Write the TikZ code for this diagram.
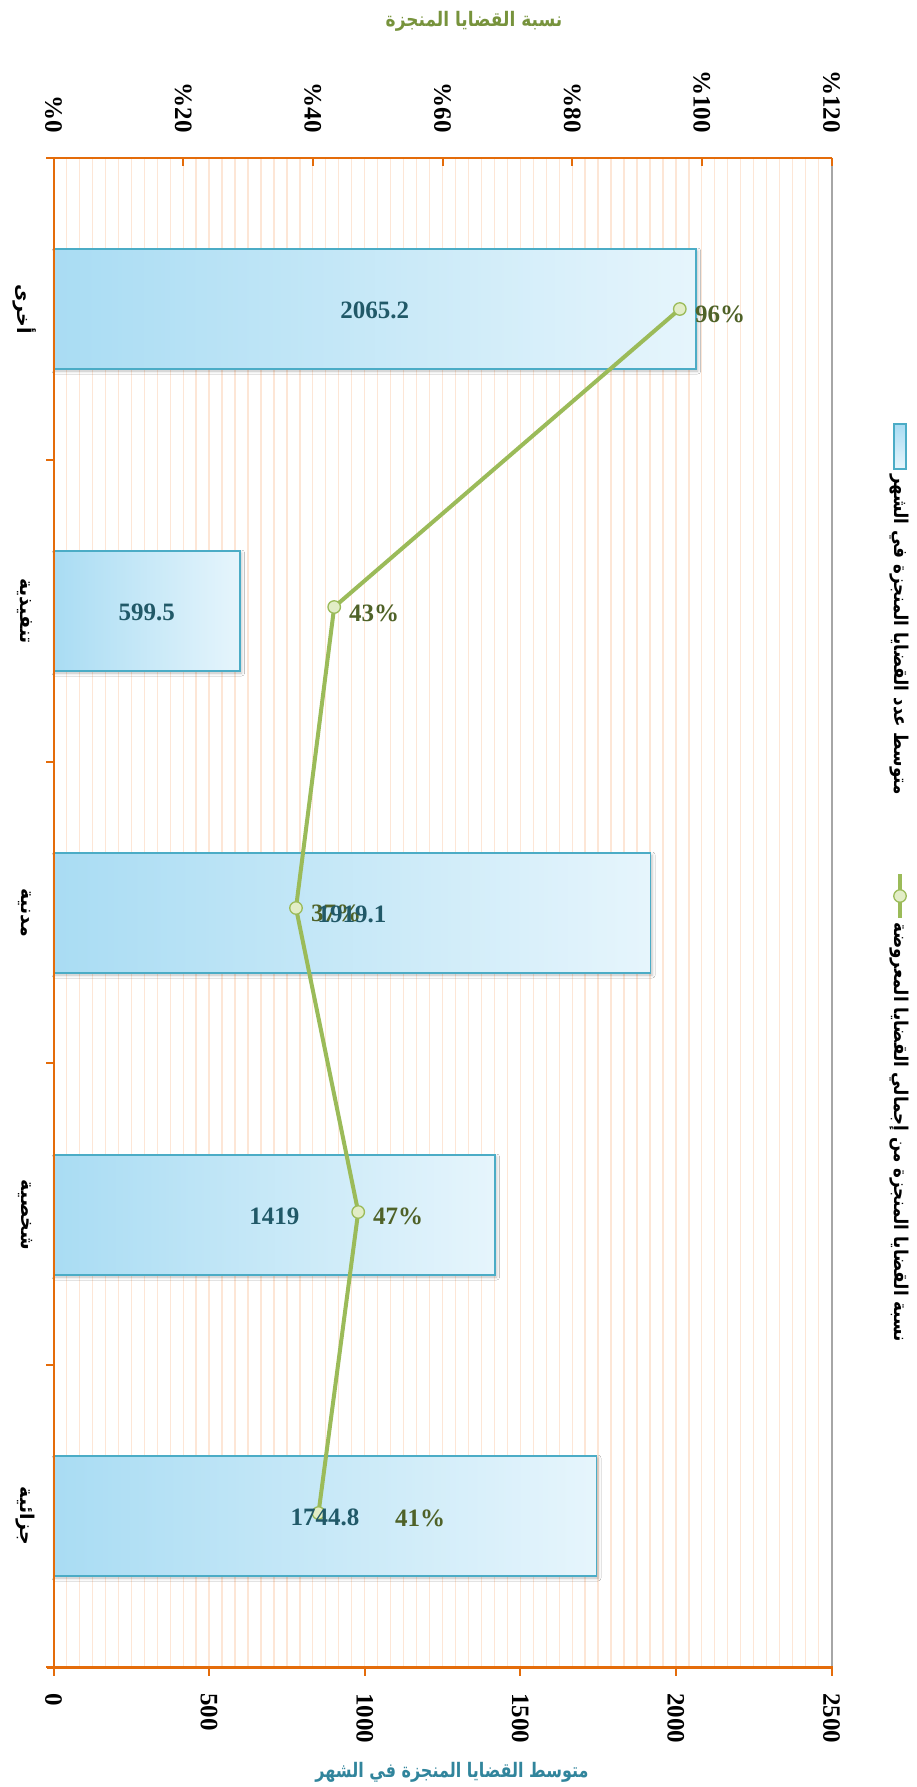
\documentclass[tikz,border=0pt]{standalone}
\usepackage{graphicx}
\usepackage{fontspec}
\setmainfont{Liberation Serif}
\newfontfamily\arabicfont[Script=Arabic]{DejaVu Sans}
\TeXXeTstate=1
\usetikzlibrary{shadows.blur}
\definecolor{axisorange}{HTML}{E46C0A}
\definecolor{gridorange}{HTML}{FDE6D6}
\definecolor{barborder}{HTML}{4BACC6}
\definecolor{barleft}{HTML}{A9DCF3}
\definecolor{barright}{HTML}{E6F5FC}
\definecolor{linegreen}{HTML}{9BBB59}
\definecolor{markerfill}{HTML}{E2EDC6}
\definecolor{pctlabel}{HTML}{4F6228}
\definecolor{barlabel}{HTML}{215968}
\definecolor{toptitle}{HTML}{77933C}
\definecolor{bottitle}{HTML}{31859C}
\definecolor{framegray}{HTML}{A6A6A6}
\tikzset{
 gridline/.style={draw=gridorange, line width=1.3pt},
 axisline/.style={draw=axisorange, line width=2pt},
 barbox/.style={rectangle, draw=barborder, line width=1.5pt, left color=barleft, right color=barright, minimum height=120pt, inner sep=0pt, outer sep=0pt, blur shadow={shadow xshift=1.5pt, shadow yshift=-2pt, shadow blur radius=3pt, shadow opacity=25}},
 gline/.style={draw=linegreen, line width=4pt, line join=round},
 gmark/.style={circle, draw=linegreen, line width=1.3pt, fill=markerfill, minimum size=12.5pt, inner sep=0pt},
 pct/.style={text=pctlabel, font=\fontsize{25}{30}\selectfont\bfseries, inner sep=0pt, anchor=west},
 barval/.style={text=barlabel, font=\fontsize{25}{30}\selectfont\bfseries, inner sep=0pt},
 ticklab/.style={font=\fontsize{25}{30}\selectfont\bfseries, inner sep=0pt, rotate=-90},
 catlab/.style={font=\arabicfont\fontsize{19}{24}\selectfont\bfseries, inner sep=0pt, rotate=-90},
 legtext/.style={font=\arabicfont\fontsize{19}{24}\selectfont\bfseries, inner sep=0pt, rotate=-90},
}
\begin{document}
\begin{tikzpicture}[x=1pt,y=-1pt]
\useasboundingbox (0,0) rectangle (917,1787);
\fill[white] (0,0) rectangle (917,1787);
% gridlines
\foreach \k in {1,...,59} {
  \draw[gridline] ({53.5+\k*12.9667},158) -- ({53.5+\k*12.9667},1667);
}
% bars
\node[barbox, minimum width=642.7pt, anchor=west] (b1) at (53.5,309) {};
\node[barbox, minimum width=186.6pt, anchor=west] (b2) at (53.5,611) {};
\node[barbox, minimum width=597.2pt, anchor=west] (b3) at (53.5,913) {};
\node[barbox, minimum width=441.6pt, anchor=west] (b4) at (53.5,1215) {};
\node[barbox, minimum width=543.0pt, anchor=west] (b5) at (53.5,1516) {};
% frame and axes
\draw[framegray, line width=1.5pt] (832,158) -- (832,1667);
\draw[axisline] (47,158) -- (832,158);
\foreach \i in {0,...,6} { \draw[axisline] ({53.5+\i*129.67},158) -- ({53.5+\i*129.67},166); }
\draw[axisline] (53.5,158) -- (53.5,1667);
\foreach \i in {0,...,5} { \draw[axisline] (46,{158+\i*301.8}) -- (53.5,{158+\i*301.8}); }
\draw[draw=axisorange, line width=3pt] (47,1667) -- (833,1667);
\foreach \i in {0,...,5} { \draw[axisline] ({53.5+\i*155.6},1667) -- ({53.5+\i*155.6},1676); }
% tick labels
\foreach \i in {0,...,6} {
  \pgfmathsetmacro\xx{53.5+\i*129.67}
  \pgfmathtruncatemacro\pp{\i*20}
  \node[ticklab, anchor=east] (tl\i) at (\xx,133) {\%\pp};
}
\foreach \i in {0,...,5} {
  \pgfmathsetmacro\xx{53.5+\i*155.6}
  \pgfmathtruncatemacro\vv{\i*500}
  \node[ticklab, anchor=west] (bl\i) at (\xx,1693) {\vv};
}
% category labels
\node[catlab] (c1) at (25,309) {\beginR أخرى\endR};
\node[catlab] (c2) at (25,611) {\beginR تنفيذية\endR};
\node[catlab] (c3) at (25,913) {\beginR مدنية\endR};
\node[catlab] (c4) at (25,1215) {\beginR شخصية\endR};
\node[catlab] (c5) at (25,1516) {\beginR جزائية\endR};
% line series
\coordinate (p1) at (679.8,309);
\coordinate (p2) at (334.2,607);
\coordinate (p3) at (296.0,908);
\coordinate (p4) at (358.2,1212);
\coordinate (p5) at (318.5,1513);
\draw[gline] (p1) -- (p2) -- (p3) -- (p4) -- (p5);
\node[gmark] (m1) at (p1) {};
\node[gmark] (m2) at (p2) {};
\node[gmark] (m3) at (p3) {};
\node[gmark] (m4) at (p4) {};
\node[gmark] (m5) at (p5) {};
% percent labels
\node[pct] (l1) at (695,314) {96\%};
\node[pct] (l2) at (349,613) {43\%};
\node[pct] (l3) at (311,913) {37\%};
\node[pct] (l4) at (373,1216) {47\%};
\node[pct] (l5) at (395,1518) {41\%};
% bar value labels
\node[barval] (v1) at (374.8,310) {2065.2};
\node[barval] (v2) at (146.8,612) {599.5};
\node[barval] (v3) at (352.1,914) {1919.1};
\node[barval] (v4) at (274.3,1216) {1419};
\node[barval] (v5) at (325.0,1517) {1744.8};
% axis titles
\node[font=\arabicfont\fontsize{20}{24}\selectfont\bfseries, text=toptitle, inner sep=0pt] (ttop) at (474,21) {\scalebox{0.85}[1]{\beginR نسبة القضايا المنجزة\endR}};
\node[font=\arabicfont\fontsize{20}{24}\selectfont\bfseries, text=bottitle, inner sep=0pt] (tbot) at (452,1772) {\scalebox{0.8}[1]{\beginR متوسط القضايا المنجزة في الشهر\endR}};
% legend
\node[rectangle, draw=barborder, line width=1.5pt, top color=barleft, bottom color=barright, minimum width=12pt, minimum height=45pt, inner sep=0pt] (k1) at (900,446.5) {};
\node[legtext, anchor=west] (lt1) at (899,474) {\scalebox{0.88}[1]{\beginR متوسط عدد القضايا المنجزة في الشهر\endR}};
\coordinate (k2a) at (900,874);
\coordinate (k2b) at (900,918);
\draw[gline] (k2a) -- (k2b);
\node[gmark] (k2m) at (900,896) {};
\node[legtext, anchor=west] (lt2) at (899,922) {\scalebox{0.88}[1]{\beginR نسبة القضايا المنجزة من إجمالي القضايا المعروضة\endR}};
\end{tikzpicture}
\end{document}
